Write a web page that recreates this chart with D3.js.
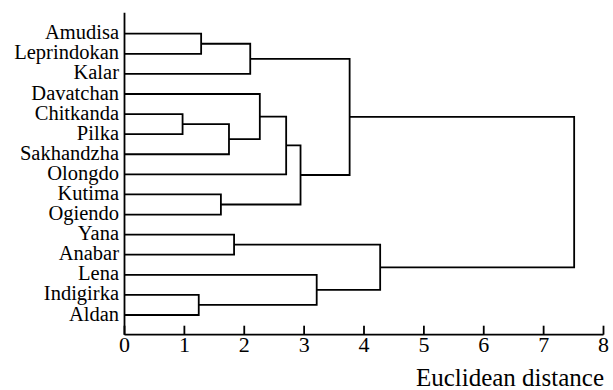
<!DOCTYPE html>
<html>
<head>
<meta charset="utf-8">
<script src="https://cdn.jsdelivr.net/npm/d3@7"></script>
<style>
  body { margin: 0; background: #fff; }
</style>
</head>
<body>
<svg id="chart" width="613" height="390"></svg>
<script>
  // leaf order, top to bottom
  var leaves = ['Amudisa', 'Leprindokan', 'Kalar', 'Davatchan', 'Chitkanda', 'Pilka',
    'Sakhandzha', 'Olongdo', 'Kutima', 'Ogiendo', 'Yana', 'Anabar', 'Lena', 'Indigirka', 'Aldan'];

  // [node id, upper child, lower child, distance]
  var merges = [
    ['A', 'Amudisa', 'Leprindokan', 1.28],
    ['B', 'A', 'Kalar', 2.10],
    ['C', 'Chitkanda', 'Pilka', 0.97],
    ['D', 'C', 'Sakhandzha', 1.745],
    ['E', 'Davatchan', 'D', 2.26],
    ['F', 'E', 'Olongdo', 2.70],
    ['G', 'Kutima', 'Ogiendo', 1.61],
    ['H', 'F', 'G', 2.94],
    ['I', 'B', 'H', 3.76],
    ['J', 'Yana', 'Anabar', 1.83],
    ['K', 'Indigirka', 'Aldan', 1.24],
    ['L', 'Lena', 'K', 3.21],
    ['M', 'J', 'L', 4.27],
    ['N', 'I', 'M', 7.51]
  ];

  var xTicks = [0, 1, 2, 3, 4, 5, 6, 7, 8];
  var xTitle = 'Euclidean distance';

  var font = '"Liberation Serif"';

  var svg = d3.select('#chart');

  var x = d3.scaleLinear().domain([0, 8]).range([124.5, 603.5]);
  var y = d3.scalePoint().domain(leaves).range([33.7, 315]);
  var axisY = 334.7;

  // node positions
  var nodes = {};
  leaves.forEach(function (name) {
    nodes[name] = { d: 0, y: y(name) };
  });
  merges.forEach(function (m) {
    var a = nodes[m[1]], b = nodes[m[2]];
    nodes[m[0]] = { d: m[3], y: (a.y + b.y) / 2 };
  });

  // branches
  svg.append('g')
    .selectAll('path')
    .data(merges)
    .enter().append('path')
    .attr('fill', 'none')
    .attr('stroke', '#000')
    .attr('stroke-width', 1.8)
    .attr('d', function (m) {
      var a = nodes[m[1]], b = nodes[m[2]];
      return 'M' + x(a.d) + ',' + a.y +
        'H' + x(m[3]) +
        'V' + b.y +
        'H' + x(b.d);
    });

  // leaf labels
  svg.append('g')
    .selectAll('text')
    .data(leaves)
    .enter().append('text')
    .attr('x', 119)
    .attr('y', function (d) { return y(d); })
    .attr('dy', '0.27em')
    .attr('text-anchor', 'end')
    .style('font-family', font)
    .style('font-size', '20.5px')
    .attr('fill', '#000')
    .text(function (d) { return d; });

  // left axis line
  svg.append('line')
    .attr('x1', x(0)).attr('x2', x(0))
    .attr('y1', 12.7).attr('y2', axisY)
    .attr('stroke', '#000')
    .attr('stroke-width', 1.8);

  // bottom axis
  var gx = svg.append('g')
    .attr('transform', 'translate(0,' + axisY + ')')
    .call(d3.axisBottom(x)
      .tickValues(xTicks)
      .tickFormat(d3.format('d'))
      .tickSizeInner(-9)
      .tickSizeOuter(0)
      .tickPadding(2)
      .offset(0));

  gx.selectAll('path, line')
    .attr('stroke', '#000')
    .attr('stroke-width', 1.8);
  gx.selectAll('text')
    .style('font-family', font)
    .style('font-size', '22px')
    .attr('fill', '#000');

  svg.append('text')
    .attr('x', 604)
    .attr('y', 386)
    .attr('text-anchor', 'end')
    .style('font-family', font)
    .style('font-size', '25px')
    .attr('fill', '#000')
    .text(xTitle);
</script>
</body>
</html>
